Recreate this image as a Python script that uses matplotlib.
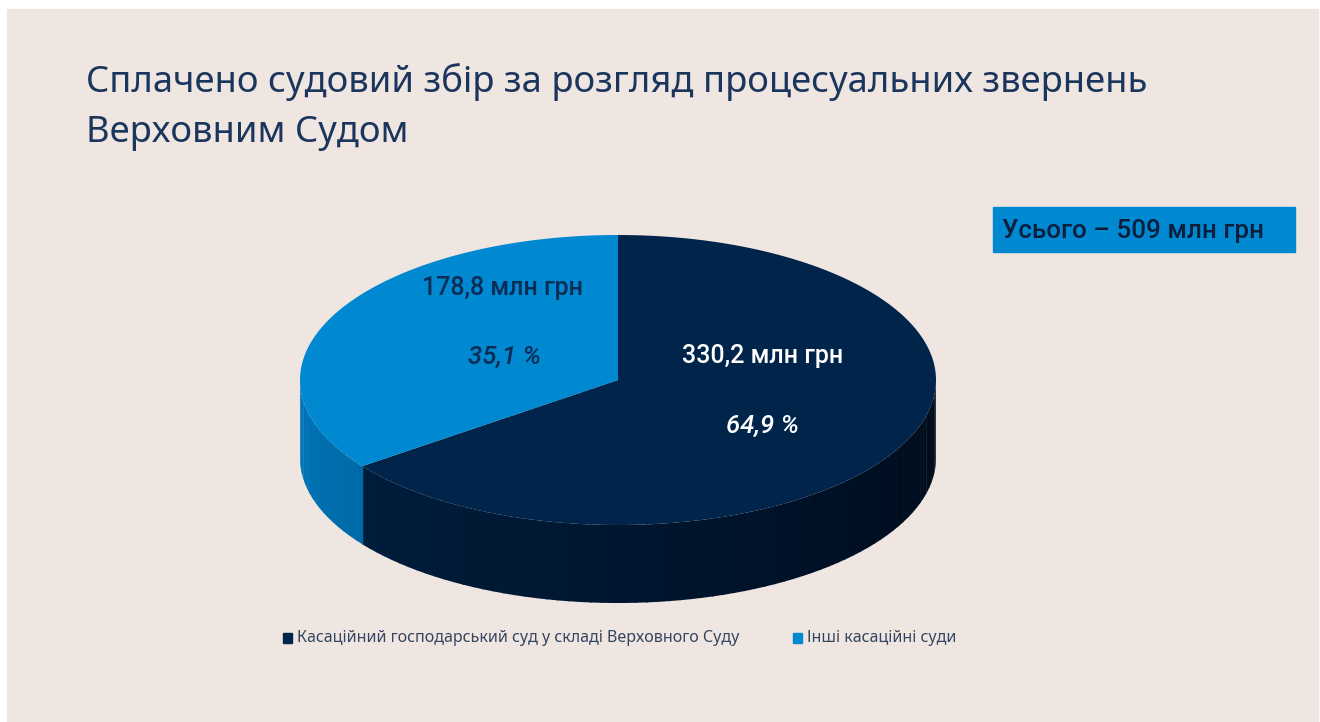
import numpy as np
import matplotlib
matplotlib.use('Agg')
import matplotlib.pyplot as plt
from matplotlib.patches import Polygon, Rectangle

plt.rcParams['font.family'] = ['Noto Sans', 'DejaVu Sans']
label_font = ['Roboto', 'Noto Sans', 'DejaVu Sans']

# data
categories = ['Касаційний господарський суд у складі Верховного Суду', 'Інші касаційні суди']
values = [330.2, 178.8]
title = 'Сплачено судовий збір за розгляд процесуальних звернень\nВерховним Судом'

# colours
bg = '#efe6e2'
top_colors = ['#00244a', '#0088d1']
side_colors = [('#001d3c', '#000b1a'), ('#0077bb', '#006aa8')]
text_colors = ['white', '#0b2d55']

fig = plt.figure(figsize=(13.2, 7.22), dpi=100)
ax = fig.add_axes([0, 0, 1, 1])
ax.set_xlim(0, 1320)
ax.set_ylim(722, 0)
ax.axis('off')
fig.patch.set_facecolor('white')
ax.add_patch(Rectangle((7, 9), 1311, 713, color=bg, zorder=0))

# pie geometry (layout)
cx, cy, rx, ry, depth = 618, 380, 318, 145, 78

total = sum(values)
fracs = [v / total for v in values]

# first slice (dark) goes clockwise from 12 o'clock, second fills the rest
angles = []
start = 90.0
for f in fracs:
    end = start - 360 * f
    angles.append((end, start))
    start = end


def ell(t):
    t = np.radians(t)
    return cx + rx * np.cos(t), cy - ry * np.sin(t)


# side walls: only the front half (180..360 deg) is visible
for i, (a0, a1) in enumerate(angles):
    lo, hi = a0 % 360, a1 % 360
    if hi <= lo:
        hi += 360
    segs = []
    for base in (0, 360):
        s0 = max(lo, 180 + base)
        s1 = min(hi, 360 + base)
        if s1 > s0:
            segs.append((s0, s1))
    for s0, s1 in segs:
        n = max(int((s1 - s0) / 2), 1)
        edges = np.linspace(s0, s1, n + 1)
        c0 = np.array(matplotlib.colors.to_rgb(side_colors[i][0]))
        c1 = np.array(matplotlib.colors.to_rgb(side_colors[i][1]))
        for k in range(n):
            tt = np.linspace(edges[k], edges[k + 1] + 0.3, 6)
            xs, ys = ell(tt)
            pts = list(zip(xs, ys)) + list(zip(xs[::-1], ys[::-1] + depth))
            frac = k / max(n - 1, 1)
            col = c0 + (c1 - c0) * frac
            ax.add_patch(Polygon(pts, closed=True, color=col, lw=0, zorder=2))

# top faces
for i, (a0, a1) in enumerate(angles):
    tt = np.linspace(a0, a1, 200)
    xs, ys = ell(tt)
    pts = [(cx, cy)] + list(zip(xs, ys))
    ax.add_patch(Polygon(pts, closed=True, color=top_colors[i], lw=0, zorder=3))

# labels inside slices
label_pos = [((763, 356), (763, 426)), ((503, 288), (504, 357))]
for i, v in enumerate(values):
    (x1, y1), (x2, y2) = label_pos[i]
    ax.text(x1, y1, f'{v:.1f}'.replace('.', ',') + ' млн грн', ha='center', va='center',
            fontsize=18, family=label_font, fontweight='medium', color=text_colors[i], zorder=4)
    ax.text(x2, y2, f'{fracs[i] * 100:.1f}'.replace('.', ',') + ' %', ha='center', va='center',
            fontsize=18.5, family=label_font, fontweight='medium', style='italic',
            color=text_colors[i], zorder=4)

# title
ax.text(86, 107, title, ha='left', va='center', fontsize=26.2, color='#1b365d',
        linespacing=1.5, zorder=4)

# total box
ax.add_patch(Rectangle((993, 207), 302, 45, color='#0088d1', zorder=3))
ax.text(1002, 231, f'Усього – {total:.0f} млн грн', ha='left', va='center',
        fontsize=18.7, family=label_font, fontweight='medium', color='#0b1f3d', zorder=4)

# legend
leg_x = [287, 797]
for i, name in enumerate(categories):
    ax.add_patch(Rectangle((leg_x[i] - 4, 633), 9, 10, color=top_colors[i], zorder=3))
    ax.text(leg_x[i] + 10, 638, name, ha='left', va='center', fontsize=11.6,
            color='#34455f', zorder=4)

fig.savefig('out.png', dpi=100, facecolor='white')
